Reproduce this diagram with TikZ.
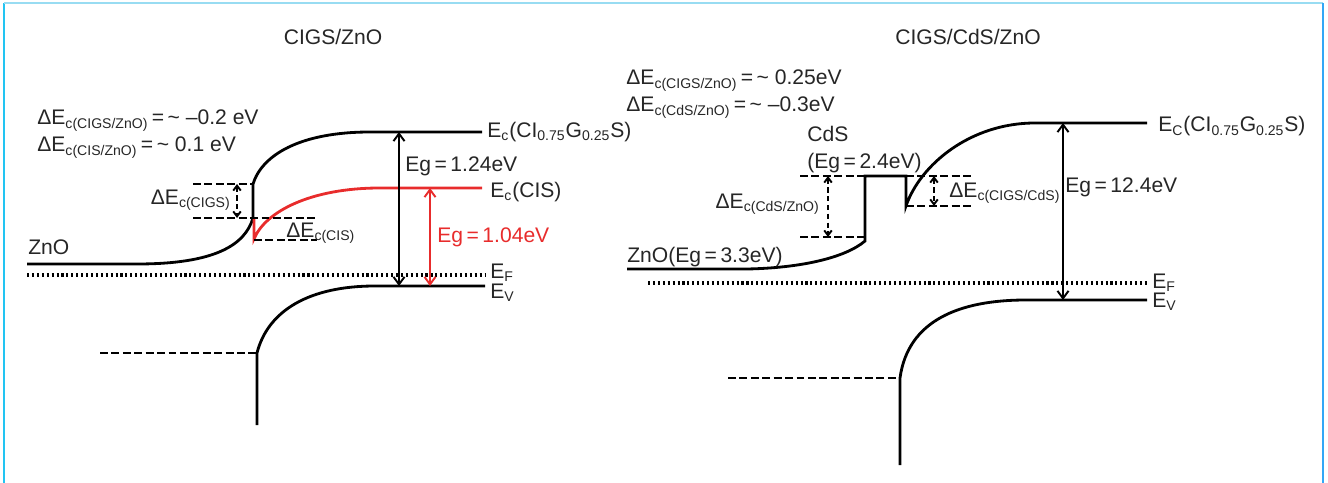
\documentclass[tikz,border=0pt]{standalone}
\usepackage{fontspec}
\setmainfont{Liberation Sans}
\usetikzlibrary{arrows.meta}
\definecolor{frameCyan}{HTML}{22C4F2}
\definecolor{frameLight}{HTML}{98DCF2}
\definecolor{cisRed}{HTML}{E82C2C}
\newcommand{\subtxt}[1]{\textsubscript{#1}}

\begin{document}
\begin{tikzpicture}[x=0.02cm, y=-0.02cm,
    band/.style={line width=1.6pt},
    offset/.style={line width=1.6pt, dash pattern=on 4.5pt off 2pt},
    fermi/.style={line width=1.9pt, dash pattern=on 1.2pt off 1.6pt},
    gap/.style={{Straight Barb[length=1.5mm,width=2.2mm]}-{Straight Barb[length=1.5mm,width=2.2mm]}, line width=1.1pt},
    gapdash/.style={{Straight Barb[length=1mm,width=1.5mm]}-{Straight Barb[length=1mm,width=1.5mm]}, line width=1.1pt, dash pattern=on 3pt off 2pt},
    lbl/.style={font=\fontsize{12}{14}\selectfont, inner sep=0pt, text=black!85},
]
    \useasboundingbox (0,0) rectangle (1328,483);
    % frame
    \draw[frameCyan, line width=0.4mm] (4,483) -- (4,3);
    \draw[frameLight, line width=0.4mm] (4,3) -- (1323,3);
    \draw[frameCyan!80!blue!90, line width=0.4mm] (1323,3) -- (1323,483);

    % ---- CIGS/ZnO ----
    \node[lbl] (titleA) at (333,37) {CIGS/ZnO};
    \node[lbl, anchor=base west] (offA1) at (37,125) {ΔE\subtxt{c(CIGS/ZnO)}\,=\,\textasciitilde\ –0.2 eV};
    \node[lbl, anchor=base west] (offA2) at (37,152) {ΔE\subtxt{c(CIS/ZnO)}\,=\,\textasciitilde\ 0.1 eV};

    \draw[band] (27,264) -- (137,264) .. controls (215,264) and (245,245) .. (253,218) -- (253,184)
        .. controls (262,155) and (300,132) .. (370,132) -- (482,132);
    \draw[band, cisRed] (254,218) -- (254,239) .. controls (265,212) and (310,188) .. (380,188) -- (482,188);
    \draw[offset] (193,184) -- (253,184);
    \draw[offset] (193,218) -- (317,218);
    \draw[offset] (254,240) -- (317,240);
    \draw[fermi] (27,275) -- (485,275);
    \draw[offset] (100,353) -- (257,353) coordinate (vbA);
    \draw[band] (257,425) -- (vbA) .. controls (268,310) and (310,286) .. (375,286) -- (485,286);

    \coordinate (ecA) at (399,132);
    \coordinate (evA) at (399,286);
    \coordinate (ecCIS) at (430,188);
    \coordinate (evCIS) at (430,286);
    \coordinate (dTopA) at (237,184);
    \coordinate (dBotA) at (237,218);
    \draw[gap] (ecA) -- (evA);
    \draw[gap, cisRed] (ecCIS) -- (evCIS);
    \draw[gapdash] (dTopA) -- (dBotA);

    \node[lbl, anchor=base west] (znoA) at (28,254) {ZnO};
    \node[lbl, anchor=base east] (dcigs) at (231,204) {ΔE\subtxt{c(CIGS)}};
    \node[lbl, anchor=base west] (dcis) at (286,237) {ΔE\subtxt{c(CIS)}};
    \node[lbl, anchor=base west] (egA) at (405,171) {Eg\,=\,1.24eV};
    \node[lbl, anchor=base west, text=cisRed] (egCIS) at (437,242) {Eg\,=\,1.04eV};
    \node[lbl, anchor=base west] (ecAlbl) at (487,137) {E\subtxt{c}(CI\subtxt{0.75}G\subtxt{0.25}S)};
    \node[lbl, anchor=base west] (ecCISlbl) at (490,197) {E\subtxt{c}(CIS)};
    \node[lbl, anchor=base west] (efA) at (490,278) {E\subtxt{F}};
    \node[lbl, anchor=base west] (evAlbl) at (490,298) {E\subtxt{V}};

    % ---- CIGS/CdS/ZnO ----
    \node[lbl] (titleB) at (968,37) {CIGS/CdS/ZnO};
    \node[lbl, anchor=base west] (offB1) at (626,85) {ΔE\subtxt{c(CIGS/ZnO)}\,=\,\textasciitilde\ 0.25eV};
    \node[lbl, anchor=base west] (offB2) at (626,112) {ΔE\subtxt{c(CdS/ZnO)}\,=\,\textasciitilde\ –0.3eV};

    \draw[band] (627,269) -- (747,269) .. controls (800,268) and (845,258) .. (865,241) -- (865,176)
        -- (906,176) -- (906,206) .. controls (920,165) and (970,123) .. (1035,123) -- (1147,123);
    \draw[offset] (800,176) -- (865,176);
    \draw[offset] (800,237) -- (865,237);
    \draw[offset] (906,176) -- (973,176);
    \draw[offset] (906,206) -- (973,206);
    \draw[fermi] (648,283) -- (1147,283);
    \draw[offset] (728,378) -- (900,378) coordinate (vbB);
    \draw[band] (900,465) -- (vbB) .. controls (908,320) and (960,300) .. (1026,300) -- (1147,300);

    \coordinate (ecB) at (1063,123);
    \coordinate (evB) at (1063,300);
    \coordinate (dTopB1) at (828,176);
    \coordinate (dBotB1) at (828,237);
    \coordinate (dTopB2) at (934,176);
    \coordinate (dBotB2) at (934,206);
    \draw[gap] (ecB) -- (evB);
    \draw[gapdash] (dTopB1) -- (dBotB1);
    \draw[gapdash] (dTopB2) -- (dBotB2);

    \node[lbl, anchor=base west] (cds) at (807,141) {CdS};
    \node[lbl, anchor=base west] (cdsEg) at (807,168) {(Eg\,=\,2.4eV)};
    \node[lbl, anchor=base west] (znoB) at (627,262) {ZnO(Eg\,=\,3.3eV)};
    \node[lbl, anchor=base east] (dcdszno) at (820,208) {ΔE\subtxt{c(CdS/ZnO)}};
    \node[lbl, anchor=base west] (dcigscds) at (949,197) {ΔE\subtxt{c(CIGS/CdS)}};
    \node[lbl, anchor=base west] (egB) at (1065,192) {Eg\,=\,12.4eV};
    \node[lbl, anchor=base west] (ecBlbl) at (1158,132) {E\subtxt{C}(CI\subtxt{0.75}G\subtxt{0.25}S)};
    \node[lbl, anchor=base west] (efB) at (1152,288) {E\subtxt{F}};
    \node[lbl, anchor=base west] (evBlbl) at (1152,307) {E\subtxt{V}};
\end{tikzpicture}
\end{document}
